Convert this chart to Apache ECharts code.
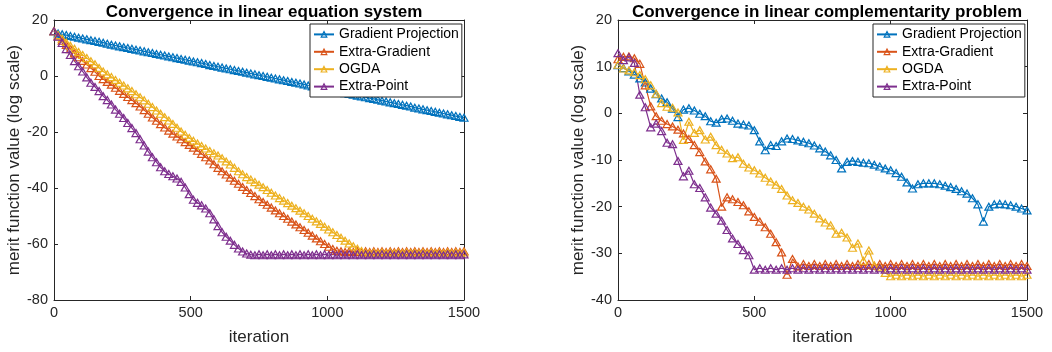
<!DOCTYPE html>
<html>
<head>
<meta charset="utf-8">
<script src="https://cdn.jsdelivr.net/npm/echarts@6/dist/echarts.min.js"></script>
<style>
html, body {margin: 0; padding: 0; background: #fff;}
#chart {width: 1052px; height: 352px;}
</style>
</head>
<body>
<div id="chart"></div>
<script>
// 左图: linear equation system, 每15次迭代一个点
var itersLeft = [
    0, 15, 30, 45, 60, 75, 90, 105, 120, 135,
    150, 165, 180, 195, 210, 225, 240, 255, 270, 285,
    300, 315, 330, 345, 360, 375, 390, 405, 420, 435,
    450, 465, 480, 495, 510, 525, 540, 555, 570, 585,
    600, 615, 630, 645, 660, 675, 690, 705, 720, 735,
    750, 765, 780, 795, 810, 825, 840, 855, 870, 885,
    900, 915, 930, 945, 960, 975, 990, 1005, 1020, 1035,
    1050, 1065, 1080, 1095, 1110, 1125, 1140, 1155, 1170, 1185,
    1200, 1215, 1230, 1245, 1260, 1275, 1290, 1305, 1320, 1335,
    1350, 1365, 1380, 1395, 1410, 1425, 1440, 1455, 1470, 1485,
    1500
];
var gpLeft = [
    16.0, 15.2, 14.9, 14.6, 14.3, 14.0, 13.7, 13.4, 13.1, 12.8,
    12.5, 12.2, 11.9, 11.5, 11.2, 10.9, 10.6, 10.3, 10.0, 9.7,
    9.4, 9.1, 8.8, 8.5, 8.2, 7.9, 7.6, 7.3, 7.0, 6.7,
    6.4, 6.1, 5.8, 5.5, 5.2, 4.9, 4.6, 4.3, 3.9, 3.6,
    3.3, 3.0, 2.7, 2.4, 2.1, 1.8, 1.5, 1.2, 0.9, 0.6,
    0.3, 0.0, -0.3, -0.6, -0.9, -1.2, -1.5, -1.8, -2.1, -2.4,
    -2.7, -3.0, -3.4, -3.7, -4.0, -4.3, -4.6, -4.9, -5.2, -5.5,
    -5.8, -6.1, -6.4, -6.7, -7.0, -7.3, -7.6, -7.9, -8.2, -8.5,
    -8.8, -9.1, -9.4, -9.7, -10.0, -10.3, -10.6, -10.9, -11.3, -11.6,
    -11.9, -12.2, -12.5, -12.8, -13.1, -13.4, -13.7, -14.0, -14.3, -14.6,
    -14.9
];
var egLeft = [
    16.0, 14.2, 12.6, 11.1, 9.6, 8.1, 6.7, 5.4, 4.1, 2.8,
    1.5, 0.0, -1.1, -2.1, -3.1, -4.2, -5.3, -6.4, -7.5, -8.6,
    -9.7, -10.9, -12.2, -13.5, -14.8, -16.0, -17.2, -18.4, -19.5, -20.6,
    -21.6, -22.6, -23.6, -24.6, -25.6, -26.7, -27.8, -29.0, -30.2, -31.5,
    -32.8, -34.0, -35.2, -36.3, -37.4, -38.5, -39.6, -40.7, -41.8, -42.9,
    -44.0, -45.0, -46.0, -47.0, -48.0, -49.0, -50.0, -51.0, -52.0, -53.0,
    -54.0, -55.0, -56.0, -57.0, -58.0, -59.0, -60.0, -61.0, -61.8, -62.4,
    -62.6, -62.9, -62.6, -62.9, -62.6, -62.9, -62.6, -62.9, -62.6, -62.9,
    -62.6, -62.9, -62.6, -62.9, -62.6, -62.9, -62.6, -62.9, -62.6, -62.9,
    -62.6, -62.9, -62.6, -62.9, -62.6, -62.9, -62.6, -62.9, -62.6, -62.9,
    -62.6
];
var ogdaLeft = [
    16.0, 14.6, 13.3, 12.0, 10.8, 9.7, 8.6, 7.5, 6.4, 5.3,
    4.2, 2.9, 1.6, 0.6, -0.4, -1.4, -2.4, -3.4, -4.4, -5.4,
    -6.5, -7.6, -8.7, -9.9, -11.1, -12.3, -13.5, -14.7, -15.9, -17.1,
    -18.5, -19.8, -21.0, -22.1, -23.1, -24.1, -25.0, -25.9, -26.8, -27.6,
    -28.4, -29.4, -30.5, -31.6, -32.8, -34.0, -35.1, -36.1, -37.0, -37.9,
    -38.8, -39.7, -40.7, -41.7, -42.7, -43.6, -44.5, -45.4, -46.3, -47.2,
    -48.1, -49.0, -50.0, -51.0, -51.9, -52.8, -53.8, -54.8, -55.8, -56.8,
    -57.8, -58.8, -59.8, -60.8, -61.7, -62.5, -63.1, -63.3, -63.0, -63.3,
    -63.0, -63.3, -63.0, -63.3, -63.0, -63.3, -63.0, -63.3, -63.0, -63.3,
    -63.0, -63.3, -63.0, -63.3, -63.0, -63.3, -63.0, -63.3, -63.0, -63.3,
    -63.0
];
var epLeft = [
    16.0, 14.0, 11.8, 9.6, 7.5, 5.3, 3.5, 1.6, -0.5, -2.4,
    -3.9, -5.4, -7.2, -8.6, -10.2, -12.0, -13.5, -15.0, -16.8, -18.6,
    -20.4, -22.6, -24.8, -27.0, -29.0, -30.8, -32.6, -34.0, -35.0, -35.8,
    -36.6, -37.8, -39.8, -42.2, -44.2, -45.3, -46.2, -47.3, -49.0, -51.2,
    -53.6, -55.8, -57.4, -58.8, -60.3, -61.6, -62.7, -63.4, -63.8, -64.0,
    -63.7, -64.0, -63.7, -64.0, -63.7, -64.0, -63.7, -64.0, -63.7, -64.0,
    -63.7, -64.0, -63.7, -64.0, -63.7, -64.0, -63.7, -64.0, -63.7, -64.0,
    -63.7, -64.0, -63.7, -64.0, -63.7, -64.0, -63.7, -64.0, -63.7, -64.0,
    -63.7, -64.0, -63.7, -64.0, -63.7, -64.0, -63.7, -64.0, -63.7, -64.0,
    -63.7, -64.0, -63.7, -64.0, -63.7, -64.0, -63.7, -64.0, -63.7, -64.0,
    -63.7
];

// 右图: linear complementarity problem, 每20次迭代一个点
var itersRight = [
    0, 20, 40, 60, 80, 100, 120, 140, 160, 180,
    200, 220, 240, 260, 280, 300, 320, 340, 360, 380,
    400, 420, 440, 460, 480, 500, 520, 540, 560, 580,
    600, 620, 640, 660, 680, 700, 720, 740, 760, 780,
    800, 820, 840, 860, 880, 900, 920, 940, 960, 980,
    1000, 1020, 1040, 1060, 1080, 1100, 1120, 1140, 1160, 1180,
    1200, 1220, 1240, 1260, 1280, 1300, 1320, 1340, 1360, 1380,
    1400, 1420, 1440, 1460, 1480, 1500
];
var gpRight = [
    10.3, 9.7, 9.0, 8.3, 7.5, 6.6, 5.3, 4.1, 3.2, 2.4,
    1.0, -0.8, 0.8, 1.1, 0.6, -0.1, -0.6, -1.7, -2.0, -1.2,
    -1.1, -1.6, -2.2, -2.4, -2.6, -3.6, -6.0, -7.9, -6.8, -7.0,
    -6.0, -5.4, -5.5, -5.8, -6.1, -6.4, -6.9, -7.5, -8.2, -9.0,
    -10.0, -11.8, -10.4, -10.2, -10.4, -10.6, -10.7, -11.0, -11.4, -11.8,
    -12.2, -12.8, -13.6, -14.8, -16.1, -15.2, -15.0, -15.0, -15.0, -15.2,
    -15.5, -15.8, -16.2, -16.7, -17.2, -18.2, -19.5, -23.2, -20.0, -19.5,
    -19.4, -19.5, -19.7, -20.0, -20.4, -20.8
];
var egRight = [
    11.6, 12.1, 12.2, 11.8, 10.6, 6.0, 1.5, -0.6, -1.6, -2.3,
    -2.8, -3.5, -4.3, -5.5, -6.8, -8.3, -10.3, -12.0, -14.0, -20.0,
    -18.0, -18.4, -19.0, -19.7, -21.0, -22.2, -23.2, -24.4, -25.8, -27.6,
    -29.8, -34.6, -31.2, -32.8, -32.3, -32.7, -32.3, -32.7, -32.3, -32.7,
    -32.3, -32.7, -32.3, -32.7, -32.3, -32.7, -32.3, -32.7, -32.3, -32.7,
    -32.3, -32.7, -32.3, -32.7, -32.3, -32.7, -32.3, -32.7, -32.3, -32.7,
    -32.3, -32.7, -32.3, -32.7, -32.3, -32.7, -32.3, -32.7, -32.3, -32.7,
    -32.3, -32.7, -32.3, -32.7, -32.3, -32.7
];
var ogdaRight = [
    10.4, 9.6, 9.2, 8.8, 8.2, 7.3, 6.0, 4.2, 2.2, 1.4,
    1.2, 0.2, -5.7, -1.8, -4.2, -3.6, -5.6, -5.0, -6.8, -7.8,
    -8.6, -9.6, -9.4, -10.8, -11.6, -12.2, -12.9, -13.8, -14.6, -15.3,
    -16.2, -17.6, -18.6, -19.2, -20.0, -20.6, -21.5, -22.5, -23.4, -24.0,
    -25.8, -25.6, -26.6, -28.8, -27.9, -31.6, -29.4, -32.6, -33.0, -34.2,
    -34.9, -34.6, -34.9, -34.6, -34.9, -34.6, -34.9, -34.6, -34.9, -34.6,
    -34.9, -34.6, -34.9, -34.6, -34.9, -34.6, -34.9, -34.6, -34.9, -34.6,
    -34.9, -34.6, -34.9, -34.6, -34.9, -34.6
];
var epRight = [
    12.9, 11.4, 12.0, 10.8, 4.0, 1.3, -3.0, -2.2, -3.8, -6.3,
    -6.6, -10.2, -13.5, -12.3, -15.2, -16.0, -18.0, -20.2, -21.5, -23.0,
    -25.0, -26.8, -28.0, -29.3, -30.4, -33.5, -33.2, -33.5, -33.2, -33.5,
    -33.2, -33.5, -33.2, -33.5, -33.2, -33.5, -33.2, -33.5, -33.2, -33.5,
    -33.2, -33.5, -33.2, -33.5, -33.2, -33.5, -33.2, -33.5, -33.2, -33.5,
    -33.2, -33.5, -33.2, -33.5, -33.2, -33.5, -33.2, -33.5, -33.2, -33.5,
    -33.2, -33.5, -33.2, -33.5, -33.2, -33.5, -33.2, -33.5, -33.2, -33.5,
    -33.2, -33.5, -33.2, -33.5, -33.2, -33.5
];

var names = ['Gradient Projection', 'Extra-Gradient', 'OGDA', 'Extra-Point'];
var colors = ['#0072BD', '#D95319', '#EDB120', '#7E2F8E'];
var titles = ['Convergence in linear equation system', 'Convergence in linear complementarity problem'];
var xTicks = {min: 0, max: 1500, interval: 500};
var yLeftTicks = {min: -80, max: 20, interval: 20};
var yRightTicks = {min: -40, max: 20, interval: 10};

var FONT = '"Liberation Sans", Arial, Helvetica, sans-serif';
var AX = '#262626';

function pairs(xs, ys) {
    var out = [];
    for (var i = 0; i < xs.length; i++) {
        out.push([xs[i], ys[i]]);
    }
    return out;
}

function lineSeries(idx, axisIdx, xs, ys) {
    return {
        name: names[idx],
        type: 'line',
        xAxisIndex: axisIdx,
        yAxisIndex: axisIdx,
        data: pairs(xs, ys),
        symbol: 'triangle',
        symbolSize: [8, 7],
        showAllSymbol: true,
        lineStyle: {color: colors[idx], width: 1.2},
        itemStyle: {color: 'rgba(255,255,255,0)', borderColor: colors[idx], borderWidth: 1.2},
        emphasis: {disabled: true}
    };
}

// 坐标轴 (刻度朝内, 四边框)
function xAxis(grid, pos, showLabel) {
    return {
        type: 'value', gridIndex: grid, position: pos,
        min: xTicks.min, max: xTicks.max, interval: xTicks.interval,
        axisLine: {show: true, onZero: false, lineStyle: {color: AX, width: 1}},
        axisTick: {show: true, inside: true, length: 4, lineStyle: {color: AX}},
        axisLabel: {
            show: showLabel, fontSize: 14.5, color: AX, margin: 5, fontFamily: FONT,
            formatter: function (v) { return String(v); }
        },
        splitLine: {show: false},
        name: showLabel ? 'iteration' : '',
        nameLocation: 'middle', nameGap: 29,
        nameTextStyle: {fontSize: 17, color: AX, fontFamily: FONT}
    };
}
function yAxis(grid, pos, showLabel, t) {
    return {
        type: 'value', gridIndex: grid, position: pos,
        min: t.min, max: t.max, interval: t.interval,
        axisLine: {show: true, onZero: false, lineStyle: {color: AX, width: 1}},
        axisTick: {show: true, inside: true, length: 4, lineStyle: {color: AX}},
        axisLabel: {show: showLabel, fontSize: 14.5, color: AX, margin: 6, fontFamily: FONT},
        splitLine: {show: false},
        name: showLabel ? 'merit function value (log scale)' : '',
        nameLocation: 'middle', nameGap: 24,
        nameTextStyle: {fontSize: 17, color: AX, fontFamily: FONT}
    };
}

function legendAt(left) {
    return {
        data: names, orient: 'vertical', left: left, top: 24,
        itemWidth: 20, itemHeight: 7, itemGap: 3.4,
        padding: [3.4, 3, 3.4, 3],
        backgroundColor: '#fff', borderColor: AX, borderWidth: 1, borderRadius: 0,
        itemStyle: {color: 'rgba(255,255,255,0)', borderWidth: 1.2},
        textStyle: {fontSize: 14, color: '#000', fontFamily: FONT},
        selectedMode: false
    };
}

var chart = echarts.init(document.getElementById('chart'));

var option = {
    animation: false,
    backgroundColor: '#fff',
    title: [
        {text: titles[0], left: 259, top: -1, textAlign: 'center',
            textStyle: {fontSize: 17, fontWeight: 'bold', color: '#000', fontFamily: FONT}},
        {text: titles[1], left: 822, top: -1, textAlign: 'center',
            textStyle: {fontSize: 17, fontWeight: 'bold', color: '#000', fontFamily: FONT}}
    ],
    legend: [legendAt(310), legendAt(873)],
    grid: [
        {left: 54, top: 20, width: 410, height: 280},
        {left: 618, top: 20, width: 409, height: 280}
    ],
    xAxis: [
        xAxis(0, 'bottom', true), xAxis(0, 'top', false),
        xAxis(1, 'bottom', true), xAxis(1, 'top', false)
    ],
    yAxis: [
        yAxis(0, 'left', true, yLeftTicks), yAxis(0, 'right', false, yLeftTicks),
        yAxis(1, 'left', true, yRightTicks), yAxis(1, 'right', false, yRightTicks)
    ],
    series: [
        lineSeries(0, 0, itersLeft, gpLeft),
        lineSeries(1, 0, itersLeft, egLeft),
        lineSeries(2, 0, itersLeft, ogdaLeft),
        lineSeries(3, 0, itersLeft, epLeft),
        lineSeries(0, 2, itersRight, gpRight),
        lineSeries(1, 2, itersRight, egRight),
        lineSeries(2, 2, itersRight, ogdaRight),
        lineSeries(3, 2, itersRight, epRight)
    ]
};

chart.setOption(option);
</script>
</body>
</html>
